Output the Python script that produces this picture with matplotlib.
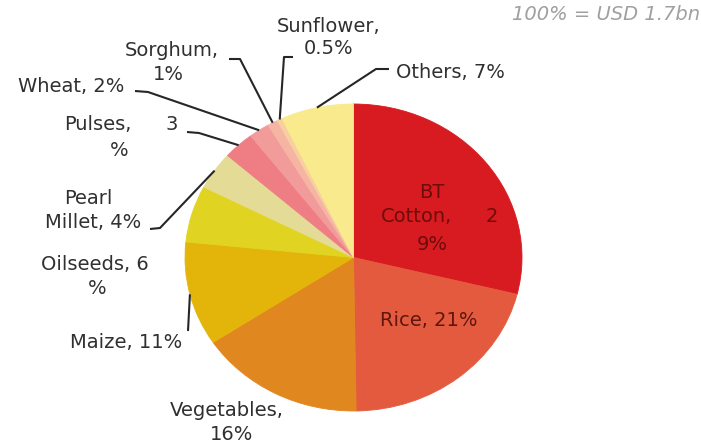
import numpy as np
import matplotlib.pyplot as plt

# Seed market split by crop (share of USD 1.7bn)
crops = ['BT Cotton', 'Rice', 'Vegetables', 'Maize', 'Oilseeds', 'Pearl Millet',
         'Pulses', 'Wheat', 'Sorghum', 'Sunflower', 'Others']
shares = [29, 21, 16, 11, 6, 4, 3, 2, 1, 0.5, 7]
colors = ['#d81b20', '#e45a3e', '#e1871f', '#e3b50b', '#e0d322', '#e3db96',
          '#ee7d84', '#f29b9b', '#f5b5a2', '#f8cf9f', '#f9ea8d']

# label pieces: (text, x, y) in pixels, wrapped the way the source slide wraps them
label_lines = {
    'BT Cotton': [('BT', 432, 192), ('Cotton,', 416, 217), ('2', 492, 217), ('9%', 432, 244)],
    'Rice': [('Rice, 21%', 429, 320)],
    'Vegetables': [('Vegetables,', 227, 411), ('16%', 232, 435)],
    'Maize': [('Maize, 11%', 126, 342)],
    'Oilseeds': [('Oilseeds, 6', 95, 265), ('%', 97, 288)],
    'Pearl Millet': [('Pearl', 88, 199), ('Millet, 4%', 93, 223)],
    'Pulses': [('Pulses,', 98, 125), ('3', 172, 125), ('%', 119, 150)],
    'Wheat': [('Wheat, 2%', 71, 87)],
    'Sorghum': [('Sorghum,', 172, 51), ('1%', 168, 74)],
    'Sunflower': [('Sunflower,', 329, 26), ('0.5%', 329, 49)],
    'Others': [('Others, 7%', 450, 72)],
}
# leader lines: points on the text side, the last leg runs to the slice edge
leaders = {
    'Sunflower': [(293, 57), (284, 57)],
    'Sorghum': [(229, 59), (240, 59)],
    'Wheat': [(135, 91), (148, 92)],
    'Pulses': [(187, 132), (199, 133)],
    'Pearl Millet': [(150, 229), (160, 228)],
    'Maize': [(188, 331)],
    'Others': [(389, 69), (376, 69)],
}
inside = {'BT Cotton': '#6e0c0c', 'Rice': '#5e160d'}

W, H = 701, 448
fig = plt.figure(figsize=(W / 100, H / 100), dpi=100)

# the pie sits in its own axes, stretched a little wider than tall
pax = fig.add_axes([185 / W, (H - 411) / H, 337 / W, 307 / H])
wedges, _ = pax.pie(shares, colors=colors, startangle=90, counterclock=False,
                    radius=1, wedgeprops={'linewidth': 0.6})
for w in wedges:
    w.set_edgecolor(w.get_facecolor())
pax.set_aspect('auto')
pax.set_xlim(-1, 1)
pax.set_ylim(-1, 1)
pax.axis('off')

# overlay in pixel coordinates for labels and leaders
ax = fig.add_axes([0, 0, 1, 1], zorder=2)
ax.set_xlim(0, W)
ax.set_ylim(H, 0)
ax.axis('off')
ax.patch.set_alpha(0)

to_px = pax.transData + ax.transData.inverted()
for name, w in zip(crops, wedges):
    mid = np.deg2rad((w.theta1 + w.theta2) / 2)
    edge = to_px.transform((np.cos(mid), np.sin(mid)))
    if name in leaders:
        pts = leaders[name] + [tuple(edge)]
        xs, ys = zip(*pts)
        ax.plot(xs, ys, color='#262626', lw=1.5, solid_capstyle='butt')
    for txt, x, y in label_lines[name]:
        ax.text(x, y, txt, ha='center', va='center', fontsize=14,
                color=inside.get(name, '#303030'), family='DejaVu Sans')

ax.text(700, 15, '100% = USD 1.7bn', ha='right', va='center', fontsize=14,
        style='italic', color='#a0a0a0', family='DejaVu Sans')

fig.savefig('out.png', dpi=100, facecolor='white')
